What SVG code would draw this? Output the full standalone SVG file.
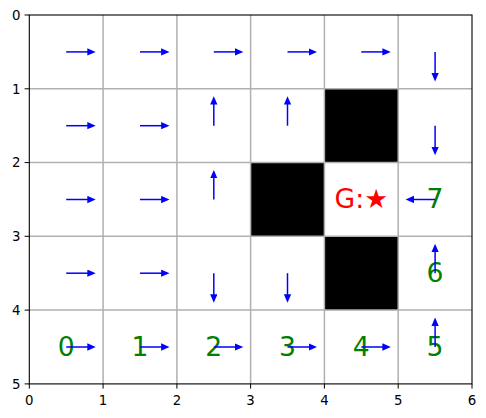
<svg xmlns="http://www.w3.org/2000/svg" width="486" height="418" viewBox="0 0 486 418">
<style>
.grid{stroke:#b0b0b0;stroke-width:1.5;fill:none}
.wall{fill:#000}
.arr{stroke:#0000ff;stroke-width:1.5;fill:none;marker-end:url(#ah)}
.lbl{font-family:"DejaVu Sans",sans-serif;font-size:26.67px;fill:#008000;text-anchor:middle}
.goal{font-family:"DejaVu Sans",sans-serif;font-size:26.67px;fill:#ff0000;text-anchor:middle}
.tick{font-family:"DejaVu Sans",sans-serif;font-size:13.33px;fill:#000}
.tm{stroke:#000;stroke-width:1}
</style>
<defs>
<marker id="ah" markerUnits="userSpaceOnUse" markerWidth="9" markerHeight="8" refX="5.4" refY="3.65" orient="auto">
<path d="M0,0 L8.4,3.65 L0,7.3 z" fill="#0000ff"/>
</marker>
</defs>
<rect x="0" y="0" width="486" height="418" fill="#fff"/>
<g id="walls">
<rect class="wall" x="324.4" y="88.8" width="73.8" height="73.8"/>
<rect class="wall" x="250.6" y="162.6" width="73.8" height="73.8"/>
<rect class="wall" x="324.4" y="236.3" width="73.8" height="73.8"/>
</g>
<g id="gridlines">
<path class="grid" d="M103.1,15V383.9M176.9,15V383.9M250.6,15V383.9M324.4,15V383.9M398.2,15V383.9M29.3,88.8H472M29.3,162.6H472M29.3,236.3H472M29.3,310.1H472"/>
</g>
<g id="labels">
<text class="lbl" x="66.2" y="355.7">0</text>
<text class="lbl" x="140" y="355.7">1</text>
<text class="lbl" x="213.8" y="355.7">2</text>
<text class="lbl" x="287.5" y="355.7">3</text>
<text class="lbl" x="361.3" y="355.7">4</text>
<text class="lbl" x="435.1" y="355.7">5</text>
<text class="lbl" x="435.1" y="281.9">6</text>
<text class="lbl" x="435.1" y="208.1">7</text>
<text class="goal" x="361.3" y="207.9">G:★</text>
</g>
<g id="connectors">
<line class="arr" x1="66.2" y1="51.9" x2="92.7" y2="51.9"/>
<line class="arr" x1="140" y1="51.9" x2="166.5" y2="51.9"/>
<line class="arr" x1="213.8" y1="51.9" x2="240.3" y2="51.9"/>
<line class="arr" x1="287.5" y1="51.9" x2="314" y2="51.9"/>
<line class="arr" x1="361.3" y1="51.9" x2="387.8" y2="51.9"/>
<line class="arr" x1="435.1" y1="51.9" x2="435.1" y2="78.4"/>
<line class="arr" x1="66.2" y1="125.7" x2="92.7" y2="125.7"/>
<line class="arr" x1="140" y1="125.7" x2="166.5" y2="125.7"/>
<line class="arr" x1="213.8" y1="125.7" x2="213.8" y2="99.2"/>
<line class="arr" x1="287.5" y1="125.7" x2="287.5" y2="99.2"/>
<line class="arr" x1="435.1" y1="125.7" x2="435.1" y2="152.2"/>
<line class="arr" x1="66.2" y1="199.5" x2="92.7" y2="199.5"/>
<line class="arr" x1="140" y1="199.5" x2="166.5" y2="199.5"/>
<line class="arr" x1="213.8" y1="199.5" x2="213.8" y2="173"/>
<line class="arr" x1="435.1" y1="199.5" x2="408.6" y2="199.5"/>
<line class="arr" x1="66.2" y1="273.2" x2="92.7" y2="273.2"/>
<line class="arr" x1="140" y1="273.2" x2="166.5" y2="273.2"/>
<line class="arr" x1="213.8" y1="273.2" x2="213.8" y2="299.7"/>
<line class="arr" x1="287.5" y1="273.2" x2="287.5" y2="299.7"/>
<line class="arr" x1="435.1" y1="273.2" x2="435.1" y2="246.7"/>
<line class="arr" x1="66.2" y1="347" x2="92.7" y2="347"/>
<line class="arr" x1="140" y1="347" x2="166.5" y2="347"/>
<line class="arr" x1="213.8" y1="347" x2="240.3" y2="347"/>
<line class="arr" x1="287.5" y1="347" x2="314" y2="347"/>
<line class="arr" x1="361.3" y1="347" x2="387.8" y2="347"/>
<line class="arr" x1="435.1" y1="347" x2="435.1" y2="320.5"/>
</g>
<g id="axes">
<rect x="29.3" y="15" width="442.7" height="368.9" fill="none" stroke="#000" stroke-width="1.1"/>
<path class="tm" d="M24.6,15H29.3M24.6,88.8H29.3M24.6,162.6H29.3M24.6,236.3H29.3M24.6,310.1H29.3M24.6,383.9H29.3M29.3,383.9V388.6M103.1,383.9V388.6M176.9,383.9V388.6M250.6,383.9V388.6M324.4,383.9V388.6M398.2,383.9V388.6M472,383.9V388.6"/>
<g class="tick" text-anchor="end">
<text x="20.5" y="19.8">0</text>
<text x="20.5" y="93.6">1</text>
<text x="20.5" y="167.4">2</text>
<text x="20.5" y="241.1">3</text>
<text x="20.5" y="314.9">4</text>
<text x="20.5" y="388.7">5</text>
</g>
<g class="tick" text-anchor="middle">
<text x="29.3" y="405">0</text>
<text x="103.1" y="405">1</text>
<text x="176.9" y="405">2</text>
<text x="250.6" y="405">3</text>
<text x="324.4" y="405">4</text>
<text x="398.2" y="405">5</text>
<text x="472" y="405">6</text>
</g>
</g>
</svg>
